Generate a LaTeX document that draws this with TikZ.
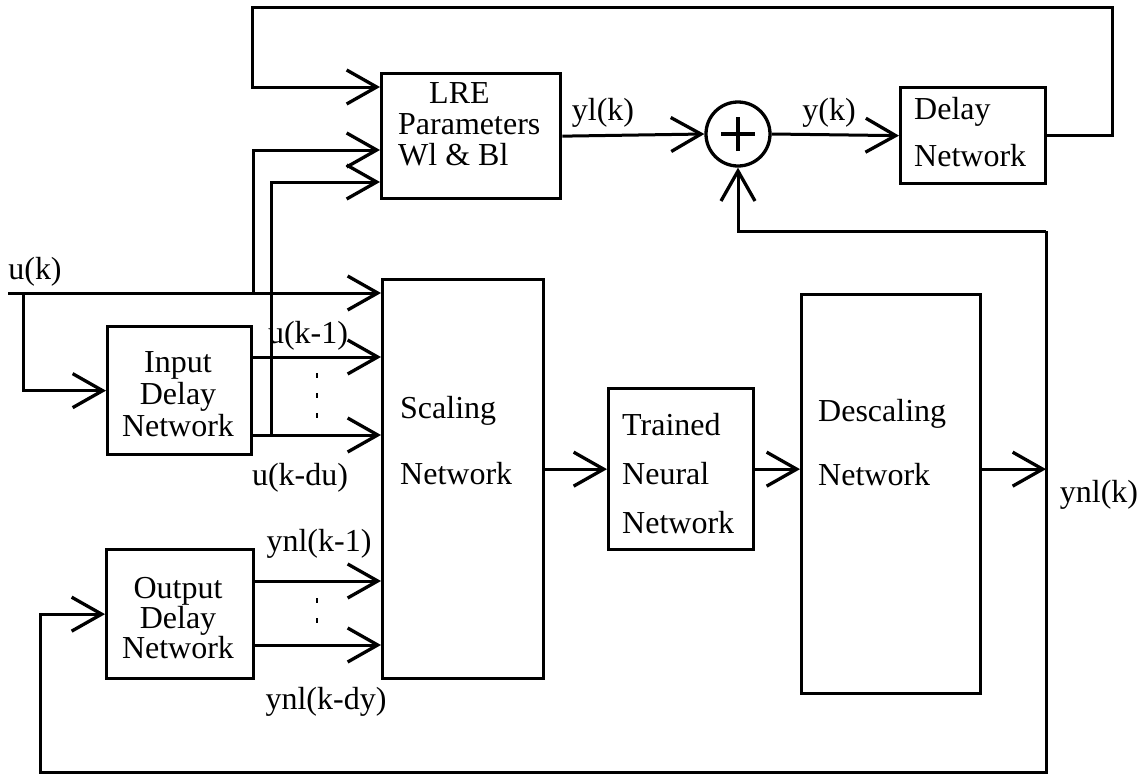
\documentclass[tikz,border=0pt]{standalone}
\usepackage{fontspec}
\setmainfont{Liberation Serif}
\usetikzlibrary{arrows.meta}
\newcommand\figfont{\fontsize{32}{32}\selectfont}
\begin{document}
\begin{tikzpicture}[x=1pt,y=-1pt,
  box/.style={draw, line width=3.3pt, inner sep=0pt},
  txt/.style={inner sep=0pt, font=\figfont},
  conn/.style={line width=3pt},
  arr/.style={conn, -{Straight Barb[length=30pt,width=34pt,line width=3.3pt]}},
  dotline/.style={line width=2.6pt, dash pattern=on 5pt off 15pt}]
\useasboundingbox (0,0) rectangle (1144,774);

% boxes
\node[box, anchor=north west, minimum width=179pt, minimum height=125pt] (lre) at (380,72) {};
\node[box, anchor=north west, minimum width=145pt, minimum height=96pt] (dly) at (899,86) {};
\node[box, circle, minimum size=64pt] (sum) at (738,134) {};
\node[box, anchor=north west, minimum width=161pt, minimum height=399pt] (sc) at (381,278) {};
\node[box, anchor=north west, minimum width=145pt, minimum height=161pt] (tr) at (607,387) {};
\node[box, anchor=north west, minimum width=179pt, minimum height=399pt] (ds) at (800,293) {};
\node[box, anchor=north west, minimum width=144pt, minimum height=128pt] (idn) at (106,325) {};
\node[box, anchor=north west, minimum width=147pt, minimum height=129pt] (odn) at (105,548) {};

% plus sign
\draw[line width=3.3pt] ([xshift=-17pt]sum.center) -- ([xshift=17pt]sum.center);
\draw[line width=3.3pt] ([yshift=-17pt]sum.center) -- ([yshift=17pt]sum.center);

% box texts
\node[txt, anchor=west, align=left, font=\fontsize{32}{31}\selectfont] (tlre) at (398,124) {\hspace*{31pt}LRE\\Parameters\\Wl \& Bl};
\node[txt, anchor=west, align=left, font=\fontsize{32}{47}\selectfont] (tdly) at (914,132) {Delay\\Network};
\node[txt, anchor=west, align=left, font=\fontsize{32}{66}\selectfont] (tsc) at (400,441) {Scaling\\Network};
\node[txt, anchor=west, align=left, font=\fontsize{32}{49}\selectfont] (ttr) at (622,474) {Trained\\Neural\\Network};
\node[txt, anchor=west, align=left, font=\fontsize{32}{64}\selectfont] (tds) at (818,443) {Descaling\\Network};
\node[txt, align=center, font=\fontsize{32}{32}\selectfont] (tidn) at (178,394) {Input\\Delay\\Network};
\node[txt, align=center, font=\fontsize{32}{30}\selectfont] (todn) at (178,618) {Output\\Delay\\Network};

% coordinates
\coordinate (uin) at (8,293);
\coordinate (ubr) at (23,293);
\coordinate (ubr2) at (253,293);
\coordinate (io1) at ([yshift=-32pt]idn.north east);
\coordinate (io2) at ([yshift=-110pt]idn.north east);
\coordinate (ubr3) at ([xshift=18pt]io2);
\coordinate (oo1) at ([yshift=-33pt]odn.north east);
\coordinate (oo2) at ([yshift=-97pt]odn.north east);
\coordinate (rv) at (1046,231);
\coordinate (rb) at (1046,772);
\coordinate (lb) at (40,772);
\coordinate (trc) at (1112,7);
\coordinate (tlc) at (252,7);
\coordinate (d1a) at (317,373);
\coordinate (d1b) at (317,425);
\coordinate (d2a) at (317,598);
\coordinate (d2b) at (317,626);

% connectors
\draw[arr] (uin) -- (uin -| sc.west);
\draw[arr] (ubr) |- (idn.west);
\draw[arr] (ubr2) |- ([yshift=-78pt]lre.north west);
\draw[arr] (ubr3) |- ([yshift=-110pt]lre.north west);
\draw[arr] (io1) -- (io1 -| sc.west);
\draw[arr] (io2) -- (io2 -| sc.west);
\draw[arr] (oo1) -- (oo1 -| sc.west);
\draw[arr] (oo2) -- (oo2 -| sc.west);
\draw[dotline] (d1a) -- (d1b);
\draw[dotline] (d2a) -- (d2b);
\draw[arr] (sc.east |- tr.west) -- (tr.west);
\draw[arr] (tr.east) -- (tr.east -| ds.west);
\draw[arr] (ds.east |- tr.east) -- (rv |- tr.east);
\draw[arr] (rv) -- (rb) -- (lb) |- (odn.west);
\draw[arr] (rv) -| (sum.south);
\draw[arr] (lre.east) -- (sum.west);
\draw[arr] (sum.east) -- (dly.west);
\draw[arr] (dly.east) -| (trc) -- (tlc) |- ([yshift=-15pt]lre.north west);

% labels
\node[txt] (luk) at (35,272) {u(k)};
\node[txt] (luk1) at (308,336) {u(k-1)};
\node[txt] (lukdu) at (300,478) {u(k-du)};
\node[txt] (lynl1) at (319,544) {ynl(k-1)};
\node[txt] (lynldy) at (326,702) {ynl(k-dy)};
\node[txt] (lyl) at (603,113) {yl(k)};
\node[txt] (ly) at (829,113) {y(k)};
\node[txt] (lynl) at (1099,495) {ynl(k)};
\end{tikzpicture}
\end{document}
